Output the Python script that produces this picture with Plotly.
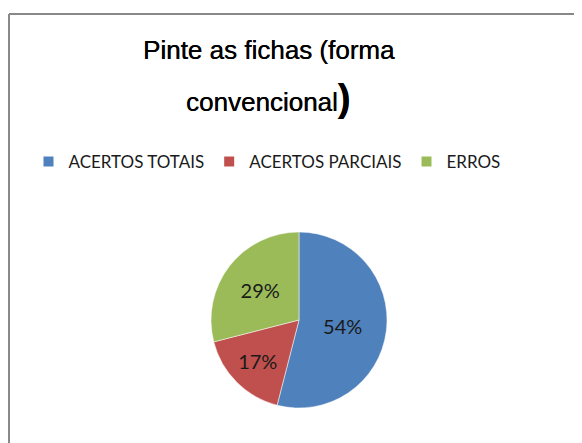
import plotly.graph_objects as go

# data
labels = ["ACERTOS TOTAIS", "ACERTOS PARCIAIS", "ERROS"]
values = [54, 17, 29]
colors = ["#4F81BD", "#C0504D", "#9BBB59"]

W, H = 582, 443
OFF = 8  # page body margin: shift everything up/left to land where the reference has it
# pie centre and radius in page pixels
cx, cy, r = 299 - OFF, 320 - OFF, 88

fig = go.Figure(go.Pie(
    labels=labels,
    values=values,
    sort=False,
    direction="clockwise",
    rotation=0,
    marker=dict(colors=colors, line=dict(color="white", width=0.5)),
    textinfo="percent",
    texttemplate="%{percent:.0%}",
    textposition="inside",
    insidetextorientation="horizontal",
    textfont=dict(family="Lato", size=20, color="#1a1a1a"),
    domain=dict(x=[(cx - r) / W, (cx + r) / W],
                y=[1 - (cy + r) / H, 1 - (cy - r) / H]),
    hoverinfo="label+percent",
))

# two-line title placed by hand to get the wide line spacing
title_font = dict(family="Liberation Sans", size=26, color="black",
                  shadow="0.3px 0 0 black")
fig.add_annotation(text="Pinte as fichas (forma", x=(269 - OFF) / W, y=1 - (50 - OFF) / H,
                   xref="paper", yref="paper", showarrow=False,
                   xanchor="center", yanchor="middle", font=title_font)
fig.add_annotation(text="convencional<b><span style='font-size:38px'>)</span></b>",
                   x=(268 - OFF) / W, y=1 - (98 - OFF) / H,
                   xref="paper", yref="paper", showarrow=False,
                   xanchor="center", yanchor="middle", font=title_font)

# chart frame (runs off the right and bottom edges)
fx, fy = (9 - OFF) / W, 1 - (14 - OFF) / H
fig.add_shape(type="line", xref="paper", yref="paper",
              x0=fx, x1=1.02, y0=fy, y1=fy,
              line=dict(color="#888888", width=2))
fig.add_shape(type="line", xref="paper", yref="paper",
              x0=fx, x1=fx, y0=-0.02, y1=fy,
              line=dict(color="#888888", width=2))

fig.update_layout(
    width=W, height=H,
    margin=dict(l=0, r=0, t=0, b=0),
    paper_bgcolor="white",
    plot_bgcolor="white",
    showlegend=True,
    legend=dict(orientation="h", x=(267 - OFF) / W, xanchor="center",
                y=1 - (162 - OFF) / H, yanchor="middle",
                font=dict(family="Lato", size=17, color="#1a1a1a"),
                itemsizing="constant", traceorder="normal"),
)

fig.write_html("out.html")
